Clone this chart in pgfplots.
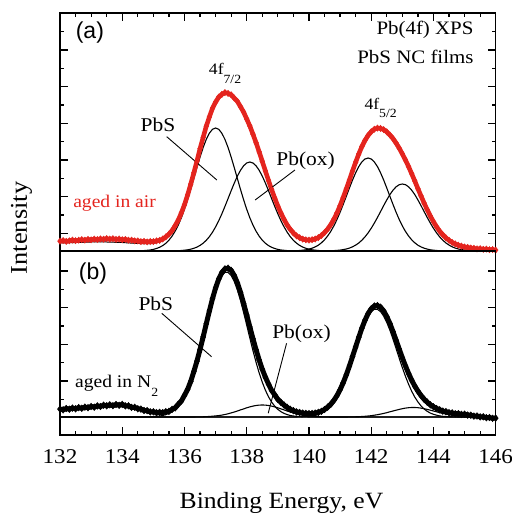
\documentclass[border=0pt]{standalone}
\usepackage{pgfplots}
\pgfplotsset{compat=1.18}
\usepackage{pgfplotstable}
\usepackage{fontspec}
\setmainfont{Liberation Serif}[FakeStretch=1.1]
\newfontfamily\panelfont{Liberation Sans}
\definecolor{airred}{RGB}{228,36,30}

\newcommand\lblfont{\fontsize{19.5bp}{22bp}\selectfont}
\newcommand\agedfont{\fontsize{17.8bp}{20bp}\selectfont}
\newcommand\cornerfont{\fontsize{19bp}{22bp}\selectfont}
\newcommand\peakfont{\fontsize{16bp}{18bp}\selectfont}
\newcommand\lowered[2]{\raisebox{-#1}{\fontsize{12.5bp}{12.5bp}\selectfont #2}}

% Pb 4f spectrum of the film aged in air: fit components, fit envelope, data
\pgfplotstableread{
x pbs7 ox7 pbs5 ox5 env red
132.0 0 0 0 0 8.0 9.8
132.1 0 0 0 0 8.1 10.4
132.2 0 0 0 0 8.2 9.6
132.3 0 0 0 0 8.3 10.2
132.4 0 0 0 0 8.4 10.9
132.5 0 0 0 0 8.5 10.3
132.6 0 0 0 0 8.6 10.8
132.7 0 0 0 0 8.7 11.4
132.8 0 0 0 0 8.8 10.9
132.9 0 0 0 0 8.9 11.6
133.0 0 0 0 0 9.0 11.2
133.1 0 0 0 0 9.0 11.9
133.2 0 0 0 0 9.0 11.5
133.3 0 0 0 0 9.0 12.1
133.4 0 0 0 0 9.0 11.8
133.5 0 0 0 0 9.0 12.4
133.6 0 0 0 0 8.9 11.9
133.7 0 0 0 0 8.8 12.3
133.8 0 0 0 0 8.7 11.6
133.9 0 0 0 0 8.6 12.0
134.0 0 0 0 0 8.5 11.3
134.1 0 0 0 0 8.3 11.6
134.2 0 0 0 0 8.1 10.8
134.3 0 0 0 0 7.9 10.9
134.4 0 0 0 0 7.7 10.2
134.5 0.1 0 0 0 7.6 10.1
134.6 0.2 0 0 0 7.4 9.4
134.7 0.4 0 0 0 7.3 9.6
134.8 0.7 0 0 0 7.3 9.1
134.9 1.0 0 0 0 7.3 9.5
135.0 1.6 0 0 0 7.6 9.4
135.1 2.5 0 0 0 8.2 10.1
135.2 3.7 0 0 0 9.1 10.6
135.3 5.4 0 0 0 10.5 12.0
135.4 7.7 0 0 0 12.5 14.1
135.5 10.8 0 0 0 15.3 16.8
135.6 14.8 0.1 0 0 19.1 20.4
135.7 19.8 0.2 0 0 23.9 25.3
135.8 25.9 0.3 0 0 29.8 30.9
135.9 33.2 0.5 0 0 37.0 38.2
136.0 41.7 0.8 0 0 45.5 46.3
136.1 51.2 1.2 0 0 55.2 56.0
136.2 61.6 1.8 0 0 66.0 66.8
136.3 72.4 2.7 0 0 77.5 78.1
136.4 83.3 3.9 0 0 89.4 89.9
136.5 93.9 5.6 0 0 101.5 102.3
136.6 103.5 7.8 0 0 113.2 113.6
136.7 111.6 10.7 0 0 124.1 124.8
136.8 117.8 14.3 0 0 133.8 134.1
136.9 121.7 18.8 0 0 142.1 142.7
137.0 123.0 24.1 0 0 148.6 148.9
137.1 121.7 30.2 0 0 153.4 153.9
137.2 117.8 37.1 0 0 156.4 156.6
137.3 111.6 44.6 0 0 157.7 158.4
137.4 103.5 52.4 0 0 157.4 157.6
137.5 93.9 60.3 0 0 155.7 156.2
137.6 83.3 67.9 0 0 152.8 152.9
137.7 72.4 74.9 0 0 149.0 149.6
137.8 61.6 80.7 0 0 144.1 144.3
137.9 51.2 85.2 0 0 138.3 138.9
138.0 41.7 88.0 0 0 131.7 132.0
138.1 33.2 89.0 0 0 124.4 125.0
138.2 25.9 88.0 0 0 116.3 116.8
138.3 19.8 85.2 0 0 107.6 108.3
138.4 14.8 80.7 0 0 98.3 99.1
138.5 10.8 74.9 0 0 88.7 89.6
138.6 7.7 67.9 0 0 78.8 80.0
138.7 5.4 60.3 0 0 69.1 70.5
138.8 3.7 52.4 0 0 59.7 61.4
138.9 2.5 44.6 0 0 50.9 52.9
139.0 1.6 37.1 0 0 42.7 44.9
139.1 1.0 30.2 0 0 35.4 37.8
139.2 0.7 24.1 0 0 29.2 31.6
139.3 0.4 18.8 0 0 23.8 26.0
139.4 0.2 14.3 0.1 0 19.4 21.6
139.5 0.1 10.7 0.2 0 16.0 18.0
139.6 0 7.8 0.3 0 13.3 15.1
139.7 0 5.6 0.5 0 11.5 13.3
139.8 0 3.9 0.8 0 10.3 11.9
139.9 0 2.7 1.2 0 9.7 11.2
140.0 0 1.8 1.9 0 9.7 10.9
140.1 0 1.2 2.8 0 10.0 11.3
140.2 0 0.8 4.1 0 10.9 12.0
140.3 0 0.5 5.8 0 12.3 13.4
140.4 0 0.3 8.2 0 14.5 15.5
140.5 0 0.2 11.2 0.1 17.5 18.4
140.6 0 0.1 15.0 0.1 21.1 21.9
140.7 0 0 19.6 0.2 25.6 26.3
140.8 0 0 25.1 0.4 31.2 31.8
140.9 0 0 31.5 0.6 37.7 38.1
141.0 0 0 38.7 0.9 45.1 45.4
141.1 0 0 46.6 1.4 53.4 53.6
141.2 0 0 54.7 2.0 62.0 62.1
141.3 0 0 63.0 2.9 71.1 71.0
141.4 0 0 71.0 4.2 80.3 80.1
141.5 0 0 78.2 5.9 89.1 88.8
141.6 0 0 84.4 8.0 97.3 97.0
141.7 0 0 89.1 10.8 104.7 104.4
141.8 0 0 92.0 14.1 110.8 110.6
141.9 0 0 93.0 18.1 115.7 115.6
142.0 0 0 92.0 22.7 119.2 119.3
142.1 0 0 89.1 27.9 121.5 121.8
142.2 0 0 84.4 33.5 122.4 122.9
142.3 0 0 78.2 39.4 122.1 122.6
142.4 0 0 71.0 45.4 120.9 121.4
142.5 0 0 63.0 51.1 118.6 119.2
142.6 0 0 54.7 56.4 115.5 116.1
142.7 0 0 46.6 60.8 111.7 112.4
142.8 0 0 38.7 64.2 107.1 107.9
142.9 0 0 31.5 66.3 101.9 102.8
143.0 0 0 25.1 67.0 96.1 97.1
143.1 0 0 19.6 66.3 89.9 91.0
143.2 0 0 15.0 64.2 83.2 84.4
143.3 0 0 11.2 60.8 76.0 77.3
143.4 0 0 8.2 56.4 68.6 70.0
143.5 0 0 5.8 51.1 60.9 62.4
143.6 0 0 4.1 45.4 53.5 55.1
143.7 0 0 2.8 39.4 46.2 47.9
143.8 0 0 1.9 33.5 39.4 41.2
143.9 0 0 1.2 27.9 33.1 34.9
144.0 0 0 0.8 22.7 27.5 29.3
144.1 0 0 0.5 18.1 22.4 24.2
144.2 0 0 0.3 14.1 18.0 19.8
144.3 0 0 0.2 10.8 14.4 16.2
144.4 0 0 0.1 8.0 11.3 13.1
144.5 0 0 0 5.9 8.9 10.7
144.6 0 0 0 4.2 6.9 8.6
144.7 0 0 0 2.9 5.3 7.1
144.8 0 0 0 2.0 4.1 5.8
144.9 0 0 0 1.4 3.2 4.9
145.0 0 0 0 0.9 2.4 4.0
145.1 0 0 0 0.6 1.9 3.6
145.2 0 0 0 0.4 1.5 3.0
145.3 0 0 0 0.2 1.1 2.7
145.4 0 0 0 0.1 0.8 2.1
145.5 0 0 0 0.1 0.6 2.3
145.6 0 0 0 0 0.4 1.7
145.7 0 0 0 0 0.3 1.9
145.8 0 0 0 0 0.2 1.3
145.9 0 0 0 0 0.1 1.5
146.0 0 0 0 0 0.0 0.9
}\airtab

% Pb 4f spectrum of the film aged in N2: fit components and data
\pgfplotstableread{
x pbs7 ox7 pbs5 ox5 dat
132.0 0 0 0 0 7.9
132.1 0 0 0 0 7.2
132.2 0 0 0 0 8.5
132.3 0 0 0 0 7.8
132.4 0 0 0 0 8.9
132.5 0 0 0 0 8.2
132.6 0 0 0 0 9.4
132.7 0 0 0 0 8.7
132.8 0 0 0 0 9.9
132.9 0 0 0 0 9.3
133.0 0 0 0 0 10.5
133.1 0 0 0 0 9.8
133.2 0 0 0 0 11.1
133.3 0 0 0 0 10.5
133.4 0 0 0 0 11.8
133.5 0 0 0 0 11.2
133.6 0 0 0 0 12.2
133.7 0 0 0 0 11.3
133.8 0 0 0 0 12.5
133.9 0 0 0 0 11.7
134.0 0 0 0 0 12.6
134.1 0 0 0 0 11.1
134.2 0 0 0 0 11.2
134.3 0 0 0 0 9.6
134.4 0 0 0 0 9.7
134.5 0 0 0 0 8.2
134.6 0 0 0 0 7.9
134.7 0 0 0 0 6.5
134.8 0.1 0 0 0 6.4
134.9 0.2 0 0 0 5.1
135.0 0.4 0 0 0 5.2
135.1 0.6 0 0 0 4.3
135.2 1.0 0 0 0 4.7
135.3 1.5 0 0 0 4.3
135.4 2.4 0 0 0 5.3
135.5 3.6 0 0 0 5.6
135.6 5.3 0 0 0 7.6
135.7 7.6 0 0 0 9.1
135.8 10.8 0 0 0 12.7
135.9 14.9 0 0 0 16.0
136.0 20.2 0 0 0 21.7
136.1 26.8 0 0 0 27.6
136.2 34.7 0 0 0 35.5
136.3 44.0 0 0 0 45.4
136.4 54.7 0.1 0 0 55.8
136.5 66.4 0.2 0 0 67.6
136.6 78.9 0.2 0 0 80.1
136.7 91.8 0.4 0 0 93.2
136.8 104.5 0.5 0 0 106.0
136.9 116.5 0.8 0 0 118.3
137.0 127.0 1.1 0 0 129.1
137.1 135.5 1.4 0 0 137.9
137.2 141.5 1.9 0 0 144.4
137.3 144.6 2.5 0 0 148.1
137.4 144.6 3.2 0 0 148.8
137.5 141.5 4.1 0 0 146.6
137.6 135.5 5.0 0 0 141.5
137.7 127.0 6.0 0 0 134.0
137.8 116.5 7.1 0 0 124.6
137.9 104.5 8.1 0 0 113.6
138.0 91.8 9.2 0 0 102.0
138.1 78.9 10.1 0 0 90.0
138.2 66.4 10.9 0 0 78.3
138.3 54.7 11.5 0 0 67.2
138.4 44.0 11.9 0 0 56.9
138.5 34.7 12.0 0 0 47.7
138.6 26.8 11.9 0 0 39.8
138.7 20.2 11.5 0 0 32.9
138.8 14.9 10.9 0 0 26.6
138.9 10.8 10.1 0 0 22.2
139.0 7.6 9.2 0 0 17.6
139.1 5.3 8.1 0 0 14.6
139.2 3.6 7.1 0 0 11.9
139.3 2.4 6.0 0 0 9.6
139.4 1.5 5.0 0 0 7.7
139.5 1.0 4.1 0 0 6.3
139.6 0.6 3.2 0 0 5.1
139.7 0.4 2.5 0.2 0 4.5
139.8 0.2 1.9 0.3 0 3.9
139.9 0.1 1.4 0.5 0 3.6
140.0 0 1.1 0.7 0 3.4
140.1 0 0.8 1.1 0 3.5
140.2 0 0.5 1.8 0 3.9
140.3 0 0.4 2.7 0 4.6
140.4 0 0.2 3.9 0 5.7
140.5 0 0.2 5.7 0 7.5
140.6 0 0.1 8.0 0 9.8
140.7 0 0 11.1 0 12.7
140.8 0 0 15.1 0 16.6
140.9 0 0 19.9 0 21.4
141.0 0 0 25.8 0 27.3
141.1 0 0 32.8 0 34.3
141.2 0 0 40.7 0 42.2
141.3 0 0 49.4 0.1 51.0
141.4 0 0 58.8 0.2 60.5
141.5 0 0 68.4 0.2 70.1
141.6 0 0 77.9 0.3 79.7
141.7 0 0 86.8 0.5 88.8
141.8 0 0 94.6 0.7 96.8
141.9 0 0 100.9 1.0 103.4
142.0 0 0 105.4 1.3 108.2
142.1 0 0 107.7 1.8 111.0
142.2 0 0 107.7 2.3 111.5
142.3 0 0 105.4 2.9 109.8
142.4 0 0 100.9 3.6 106.0
142.5 0 0 94.6 4.3 100.4
142.6 0 0 86.8 5.2 93.5
142.7 0 0 77.9 6.0 85.4
142.8 0 0 68.4 6.8 76.7
142.9 0 0 58.8 7.6 67.9
143.0 0 0 49.4 8.3 59.2
143.1 0 0 40.7 8.9 51.1
143.2 0 0 32.8 9.3 43.6
143.3 0 0 25.8 9.5 36.8
143.4 0 0 19.9 9.5 30.9
143.5 0 0 15.1 9.3 25.9
143.6 0 0 11.1 8.9 21.5
143.7 0 0 8.0 8.3 17.8
143.8 0 0 5.7 7.6 14.8
143.9 0 0 3.9 6.8 12.2
144.0 0 0 2.7 6.0 10.2
144.1 0 0 1.8 5.2 8.5
144.2 0 0 1.1 4.3 7.2
144.3 0 0 0.7 3.6 5.9
144.4 0 0 0.5 2.9 5.4
144.5 0 0 0.3 2.3 4.3
144.6 0 0 0.2 1.8 4.1
144.7 0 0 0.1 1.3 3.2
144.8 0 0 0 1.0 3.4
144.9 0 0 0 0.7 2.6
145.0 0 0 0 0.5 2.8
145.1 0 0 0 0.3 1.9
145.2 0 0 0 0.2 1.8
145.3 0 0 0 0.2 0.9
145.4 0 0 0 0.1 1.0
145.5 0 0 0 0 0.1
145.6 0 0 0 0 0.2
145.7 0 0 0 0 -0.7
145.8 0 0 0 0 -0.5
145.9 0 0 0 0 -1.3
146.0 0 0 0 0 -1.1
}\ntwotab

\pgfplotsset{
  xpsframe/.style={
    scale only axis, width=435.7bp,
    xmin=132, xmax=146,
    xtick={132,134,...,146}, minor x tick num=3,
    yticklabels={},
    tick align=inside,
    major tick length=8bp, minor tick length=4bp,
    tick style={black, line width=1.2bp},
    axis line style={line width=1.4bp},
    clip=false,
  },
  comp/.style={black, line width=1.1bp, no marks},
}

\begin{document}
\begin{tikzpicture}
\useasboundingbox (0,0) rectangle (512bp,515bp);

% (a) aged in air
\begin{axis}[xpsframe, at={(60bp,264bp)}, anchor=south west,
    height=238bp, ymin=0, ymax=238,
    xtick pos=right, xticklabels={},
    ytick={17.7,54.3,91,127.7,164.3,201},
    minor ytick={36,72.7,109.3,146,182.7,219.3}]
  \addplot[comp] table[x=x, y=pbs7] {\airtab};
  \addplot[comp] table[x=x, y=ox7] {\airtab};
  \addplot[comp] table[x=x, y=pbs5] {\airtab};
  \addplot[comp] table[x=x, y=ox5] {\airtab};
  \addplot[black, line width=1.0bp, no marks] table[x=x, y=env] {\airtab};
  \addplot[airred, line width=4.6bp, mark=diamond*, mark size=3.2bp,
    mark options={solid, fill=airred, draw=airred, line width=0.4bp}]
    table[x=x, y=red] {\airtab};

  \node[font=\panelfont\fontsize{23bp}{25bp}\selectfont] at (axis cs:132.96,218) {(a)};
  \node[font=\cornerfont, anchor=base east] at (axis cs:145.40,216) {Pb(4f) XPS};
  \node[font=\cornerfont, anchor=base east] at (axis cs:145.40,187.7) {PbS NC films};
  \node[font=\peakfont, anchor=base west, inner sep=0pt] at (axis cs:136.78,176) {4f\lowered{8.5bp}{7/2}};
  \node[font=\peakfont, anchor=base west, inner sep=0pt] at (axis cs:141.78,141) {4f\lowered{8bp}{5/2}};
  \node[font=\lblfont, anchor=base] at (axis cs:135.15,119) {PbS};
  \node[font=\lblfont, anchor=base] at (axis cs:139.89,85) {Pb(ox)};
  \node[font=\agedfont, anchor=base west, inner sep=0pt, text=airred] at (axis cs:132.42,43) {aged in air};
  \draw[line width=0.9bp] (axis cs:135.43,114.3) -- (axis cs:137.04,71);
  \draw[line width=0.9bp] (axis cs:139.55,81) -- (axis cs:138.27,51);
\end{axis}

% (b) aged in N2
\begin{axis}[xpsframe, at={(60bp,80bp)}, anchor=south west,
    height=184bp, ymin=-18, ymax=166,
    xtick pos=left,
    xticklabels={132,134,136,138,140,142,144,146},
    xticklabel style={font=\fontsize{21bp}{21bp}\selectfont, yshift=-11bp},
    ytick={36,72.7,109.3,146},
    minor ytick={17.7,54.3,91,127.7}]
  \addplot[comp] table[x=x, y=pbs7] {\ntwotab};
  \addplot[comp] table[x=x, y=ox7] {\ntwotab};
  \addplot[comp] table[x=x, y=pbs5] {\ntwotab};
  \addplot[comp] table[x=x, y=ox5] {\ntwotab};
  \addplot[black, line width=5bp, mark=diamond*, mark size=3.4bp,
    mark options={solid, fill=black, line width=0.4bp}]
    table[x=x, y=dat] {\ntwotab};

  \node[font=\panelfont\fontsize{23bp}{25bp}\selectfont] at (axis cs:133.06,143) {(b)};
  \node[font=\lblfont, anchor=base] at (axis cs:135.08,107) {PbS};
  \node[font=\lblfont, anchor=base] at (axis cs:139.76,79) {Pb(ox)};
  \node[font=\agedfont, anchor=base west, inner sep=0pt] at (axis cs:132.48,30) {aged in N\lowered{9bp}{2}};
  \draw[line width=0.9bp] (axis cs:135.27,103.7) -- (axis cs:136.87,60.3);
  \draw[line width=0.9bp] (axis cs:139.28,73.7) -- (axis cs:138.69,3.7);
\end{axis}

\node[rotate=90, font=\fontsize{24bp}{26bp}\selectfont] at (21.5bp,287bp) {Intensity};
\node[anchor=base, font=\fontsize{23.3bp}{26bp}\selectfont] at (281.5bp,7bp) {Binding Energy, eV};
\end{tikzpicture}
\end{document}
